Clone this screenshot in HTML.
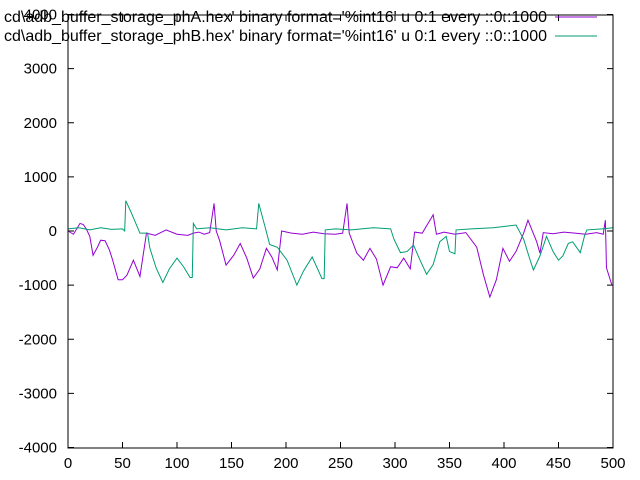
<!DOCTYPE html>
<html><head><meta charset="utf-8"><style>body{margin:0;background:#fff}svg{display:block}text{font-family:"Liberation Sans",sans-serif;font-size:15px;fill:#000}.lg{font-size:16px}</style></head>
<body>
<svg id="chart" width="640" height="480" viewBox="0 0 640 480">
<rect width="640" height="480" fill="#fff"/>
<g id="axes"></g>
<g id="series"></g>
<rect x="68" y="15" width="545" height="433" fill="none" stroke="#000" stroke-width="1"/>
<g>
<text class="lg" x="547" y="22" text-anchor="end">cd\adb_buffer_storage_phA.hex' binary format='%int16' u 0:1 every ::0::1000</text>
<line x1="555" y1="17" x2="597" y2="17" stroke="#9400d3" stroke-width="1"/>
<text class="lg" x="547" y="41" text-anchor="end">cd\adb_buffer_storage_phB.hex' binary format='%int16' u 0:1 every ::0::1000</text>
<line x1="555" y1="36" x2="597" y2="36" stroke="#009e73" stroke-width="1"/>
</g>
</svg>
<script>
const xTicks=[0,50,100,150,200,250,300,350,400,450,500];
const yTicks=[-4000,-3000,-2000,-1000,0,1000,2000,3000,4000];
const phAx=[0,5,11,14,17,20,23,27,30,34,38,41,46,50,54,60,66,72,80,90,100,110,115,120,125,130,134,136,139,145,152,158,164,170,176,182,187,192,196,205,215,225,235,245,252,256,258,265,271,277,283,289,296,302,308,314,318,325,335,338,345,355,365,375,381,387,393,399,405,411,418,422,430,433,436,445,455,465,475,485,491,493,494,499,500];
const phAy=[0,-60,140,120,30,-100,-450,-300,-170,-180,-350,-540,-900,-900,-820,-540,-840,-40,-80,20,-60,-80,-40,-20,-60,-30,510,0,-170,-630,-450,-230,-500,-870,-700,-320,-480,-720,0,-40,-60,-20,-50,-60,-40,510,-40,-410,-540,-320,-520,-1000,-660,-680,-500,-700,-20,-40,300,-60,-20,-60,-30,-300,-800,-1220,-900,-320,-560,-380,-40,200,-200,-410,-30,-50,-20,-40,-60,-30,-60,200,-680,-1000,-1000];
const phBx=[0,10,20,30,40,50,52,53,58,66,73,75,81,87,93,100,106,112,114,115,118,130,145,160,173,175,181,185,192,201,210,216,224,233,235,236,245,260,280,296,299,305,311,317,323,329,335,341,347,350,355,356,370,390,411,418,424,427,433,439,445,450,454,459,463,470,474,476,490,500];
const phBy=[40,60,20,60,30,40,0,560,340,-40,-40,-310,-690,-950,-700,-500,-660,-860,-860,140,40,60,20,60,40,510,60,-250,-300,-540,-1000,-740,-480,-880,-880,20,40,20,60,40,-150,-400,-380,-260,-540,-800,-620,-200,-100,-380,-420,20,40,60,110,-150,-540,-720,-460,-100,-380,-540,-460,-230,-200,-400,-80,20,40,60];
const X=v=>68+v*545/500, Y=v=>231-v*(433/8000);
const NS="http://www.w3.org/2000/svg";
const ax=document.getElementById('axes'), sg=document.getElementById('series');
function mk(t,a,p){const e=document.createElementNS(NS,t);for(const k in a)e.setAttribute(k,a[k]);p.appendChild(e);return e;}
xTicks.forEach(v=>{
 const t=mk('line',{x1:X(v),x2:X(v),y1:448,y2:442,stroke:'#000'},ax);
 
 
 const t2=mk('line',{x1:X(v),x2:X(v),y1:15,y2:21,stroke:'#000'},ax);
 
 
 const l=mk('text',{x:X(v),y:468,'text-anchor':'middle'},ax);l.textContent=v;
 
 
});
yTicks.forEach(v=>{
 const t=mk('line',{x1:68,x2:74,y1:Y(v),y2:Y(v),stroke:'#000'},ax);
 
 
 const t2=mk('line',{x1:607,x2:613,y1:Y(v),y2:Y(v),stroke:'#000'},ax);
 
 
 const l=mk('text',{x:57,y:Y(v)+5,'text-anchor':'end'},ax);l.textContent=v;
 
 
});
function line(xs,ys,c,n){
 const p=mk('polyline',{points:xs.map((x,i)=>X(x)+','+Y(ys[i])).join(' '),fill:'none',stroke:c,'stroke-width':1},sg);
 
 
}
line(phAx,phAy,'#9400d3','series-phA');
line(phBx,phBy,'#009e73','series-phB');
</script>
</body></html>
